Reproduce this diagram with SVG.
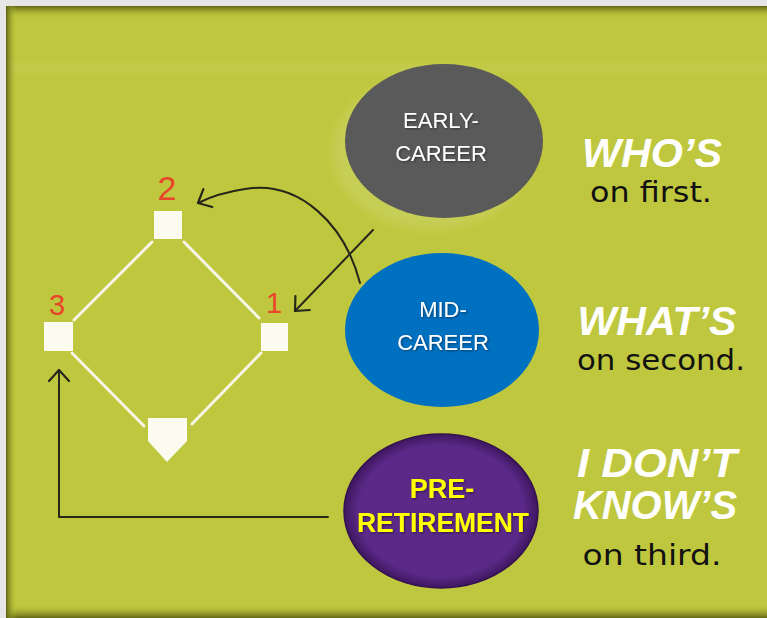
<svg xmlns="http://www.w3.org/2000/svg" width="767" height="618" viewBox="0 0 767 618">
  <defs>
    <style>
      .base { fill: #fbfbef; }
      .path { stroke: #f6f6e6; stroke-width: 3; fill: none; stroke-linecap: round; }
      .num { font-family: "Liberation Sans", Arial, sans-serif; fill: #e8452a; text-anchor: middle; }
      .lbl { font-family: "Liberation Sans", Arial, sans-serif; fill: #ffffff; text-anchor: middle; font-size: 22px; }
      .lblb { font-family: "Liberation Sans", Arial, sans-serif; fill: #ffff00; text-anchor: middle; font-size: 27px; font-weight: bold; }
      .big { font-family: "Liberation Sans", Arial, sans-serif; fill: #ffffff; font-weight: bold; font-style: italic; font-size: 40px; text-anchor: middle; }
      .small { font-family: "DejaVu Sans", "Liberation Sans", sans-serif; fill: #111111; font-size: 28px; text-anchor: middle; }
      .conn { fill: none; stroke: #26261a; stroke-width: 2; stroke-linecap: round; stroke-linejoin: round; }
    </style>
    <marker id="chev" markerUnits="userSpaceOnUse" markerWidth="30" markerHeight="30" viewBox="-15 -15 30 30" refX="0" refY="0" orient="auto">
      <path d="M -11 -10 L 0 0 L -11 10" fill="none" stroke="#26261a" stroke-width="2.2" stroke-linecap="round" stroke-linejoin="round"/>
    </marker>
    <linearGradient id="topShade" x1="0" y1="0" x2="0" y2="1">
      <stop offset="0" stop-color="#5c6010" stop-opacity="0.95"/>
      <stop offset="1" stop-color="#bfc73e" stop-opacity="0"/>
    </linearGradient>
    <linearGradient id="botShade" x1="0" y1="1" x2="0" y2="0">
      <stop offset="0" stop-color="#5c6010" stop-opacity="0.95"/>
      <stop offset="1" stop-color="#bfc73e" stop-opacity="0"/>
    </linearGradient>
    <linearGradient id="leftShade" x1="0" y1="0" x2="1" y2="0">
      <stop offset="0" stop-color="#5c6010" stop-opacity="0.95"/>
      <stop offset="1" stop-color="#bfc73e" stop-opacity="0"/>
    </linearGradient>
    <linearGradient id="band" x1="0" y1="0" x2="0" y2="1">
      <stop offset="0" stop-color="#ffffff" stop-opacity="0"/>
      <stop offset="0.5" stop-color="#ffffff" stop-opacity="0.07"/>
      <stop offset="1" stop-color="#ffffff" stop-opacity="0"/>
    </linearGradient>
    <radialGradient id="purpleFill" cx="0.5" cy="0.5" r="0.5">
      <stop offset="0.85" stop-color="#5b2a88"/>
      <stop offset="1" stop-color="#3e1660"/>
    </radialGradient>
    <filter id="soft" x="-20%" y="-20%" width="140%" height="140%">
      <feGaussianBlur stdDeviation="6"/>
    </filter>
    <filter id="tshadow" x="-10%" y="-20%" width="120%" height="140%">
      <feDropShadow dx="1" dy="1" stdDeviation="0.8" flood-color="#000000" flood-opacity="0.45"/>
    </filter>
  </defs>

  <!-- background frame -->
  <rect x="0" y="0" width="767" height="618" fill="#e6e6e6"/>
  <rect x="6" y="6" width="761" height="612" fill="#bfc73e"/>
  <rect x="6" y="58" width="761" height="20" fill="url(#band)"/>
  <rect x="6" y="6" width="761" height="13" fill="url(#topShade)"/>
  <rect x="6" y="604" width="761" height="14" fill="url(#botShade)"/>
  <rect x="6" y="6" width="11" height="612" fill="url(#leftShade)"/>

  <!-- diamond -->
  <g id="diamond">
    <line class="path" x1="152" y1="242" x2="74" y2="320"/>
    <line class="path" x1="184" y1="242" x2="259" y2="318"/>
    <line class="path" x1="72" y1="353" x2="144" y2="426"/>
    <line class="path" x1="261" y1="353" x2="192" y2="424"/>
  </g>
  <g id="base-second">
    <rect class="base" x="154" y="211" width="28" height="28"/>
    <text class="num" x="167" y="200" font-size="34">2</text>
  </g>
  <g id="base-third">
    <rect class="base" x="44" y="322" width="29" height="29"/>
    <text class="num" x="57" y="315" font-size="29">3</text>
  </g>
  <g id="base-first">
    <rect class="base" x="261" y="323" width="27" height="28"/>
    <text class="num" x="274" y="313" font-size="29">1</text>
  </g>
  <g id="home-plate">
    <polygon class="base" points="148,418 187,418 187,441 167,462 148,441"/>
  </g>

  <!-- career nodes -->
  <g id="early-career">
    <ellipse cx="432" cy="152" rx="100" ry="78" fill="#ffffff" opacity="0.12" filter="url(#soft)"/>
    <ellipse cx="444" cy="141" rx="99" ry="77" fill="#5a5a5a"/>
    <g filter="url(#tshadow)">
      <text class="lbl" x="441" y="128">EARLY-</text>
      <text class="lbl" x="441" y="161">CAREER</text>
    </g>
  </g>
  <g id="mid-career">
    <ellipse cx="442" cy="330" rx="97" ry="77" fill="#0070c0"/>
    <g filter="url(#tshadow)">
      <text class="lbl" x="443" y="317">MID-</text>
      <text class="lbl" x="443" y="350">CAREER</text>
    </g>
  </g>
  <g id="pre-retirement">
    <ellipse cx="441" cy="511" rx="97" ry="77" fill="url(#purpleFill)" stroke="#34124f" stroke-width="1.5"/>
    <g filter="url(#tshadow)">
      <text class="lblb" x="442" y="498">PRE-</text>
      <text class="lblb" x="443" y="532" textLength="172" lengthAdjust="spacingAndGlyphs">RETIREMENT</text>
    </g>
  </g>

  <!-- right-hand captions -->
  <g id="caption-first">
    <text class="big" x="652" y="167" textLength="140" lengthAdjust="spacingAndGlyphs">WHO’S</text>
    <text class="small" x="651" y="202" textLength="122" lengthAdjust="spacingAndGlyphs">on first.</text>
  </g>
  <g id="caption-second">
    <text class="big" x="657" y="335" textLength="159" lengthAdjust="spacingAndGlyphs">WHAT’S</text>
    <text class="small" x="661" y="370" textLength="168" lengthAdjust="spacingAndGlyphs">on second.</text>
  </g>
  <g id="caption-third">
    <text class="big" x="657" y="477" font-size="32" textLength="160" lengthAdjust="spacingAndGlyphs">I DON’T</text>
    <text class="big" x="655" y="519" font-size="32" textLength="164" lengthAdjust="spacingAndGlyphs">KNOW’S</text>
    <text class="small" x="652" y="565" textLength="139" lengthAdjust="spacingAndGlyphs">on third.</text>
  </g>

  <!-- connectors -->
  <g id="connectors">
    <path class="conn" d="M 360 283 C 345 225, 300 180, 245 189 C 225 192, 210 197, 198 203" marker-end="url(#chev)"/>
    <path class="conn" d="M 373 230 L 295 311" stroke="#34341c" marker-end="url(#chev)"/>
    <path class="conn" d="M 328 517 L 59 517 L 59 370" marker-end="url(#chev)"/>
  </g>
</svg>
